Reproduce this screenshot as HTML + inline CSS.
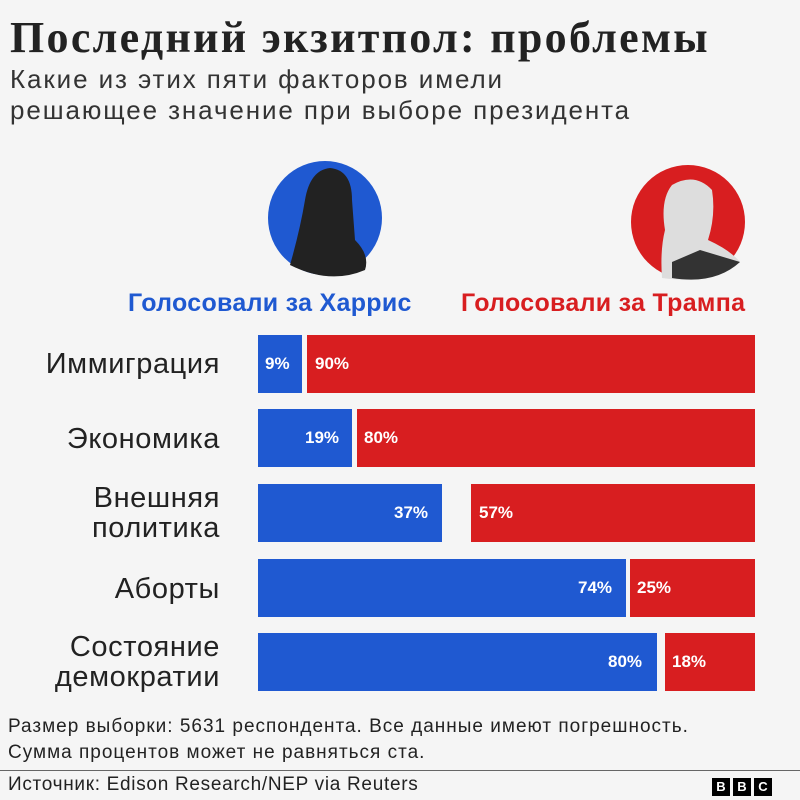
<!DOCTYPE html>
<html><head><meta charset="utf-8"><style>
body{margin:0;background:#f5f5f5;}
#c{position:relative;width:800px;height:800px;background:#f5f5f5;font-family:"Liberation Sans","DejaVu Sans",sans-serif;overflow:hidden;color:#222}
.a{position:absolute;white-space:nowrap}
.b{position:absolute;height:58px}
.bl{background:#1f59d1}.rd{background:#d81e20}
.p{position:absolute;color:#fff;font-weight:bold;font-size:17px;line-height:58px}
.lab{position:absolute;right:580px;text-align:right;font-size:29px;line-height:30px;color:#222;letter-spacing:0.6px}
</style></head><body><div id="c">
<div class="a" style="left:10px;top:12px;font-family:'Liberation Serif',serif;font-weight:bold;font-size:44px;letter-spacing:2.3px;color:#222">Последний экзитпол: проблемы</div>
<div class="a" style="left:10px;top:64px;font-size:26px;letter-spacing:1.9px;line-height:31px;color:#333">Какие из этих пяти факторов имели<br>решающее значение при выборе президента</div>
<svg class="a" style="left:0;top:0" width="800" height="300">
<circle cx="325" cy="218" r="57" fill="#1f59d1"/>
<path d="M290 265 Q300 230 305 200 Q310 170 330 168 Q352 170 352 200 L355 240 Q370 255 365 270 Q330 285 290 265Z" fill="#222"/>
<circle cx="688" cy="222" r="57" fill="#d81e20"/>
<path d="M662 278 Q660 250 665 230 Q660 200 672 185 Q695 172 712 190 Q716 215 708 240 Q730 250 740 262 Q715 285 662 278Z" fill="#ddd"/>
<path d="M672 262 L700 250 L740 262 Q715 285 672 278Z" fill="#333"/>
</svg>
<div class="a" style="left:128px;top:289px;font-size:25px;font-weight:bold;letter-spacing:0.3px;color:#1f59d1">Голосовали за Харрис</div>
<div class="a" style="left:461px;top:289px;font-size:25px;font-weight:bold;letter-spacing:0.3px;color:#d81e20">Голосовали за Трампа</div>

<div class="lab" style="top:349px">Иммиграция</div>
<div class="b bl" style="left:258px;top:335px;width:44px"></div><div class="p" style="left:265px;top:335px">9%</div>
<div class="b rd" style="left:307px;top:335px;width:448px"></div><div class="p" style="left:315px;top:335px">90%</div>

<div class="lab" style="top:424px">Экономика</div>
<div class="b bl" style="left:258px;top:409px;width:94px"></div><div class="p" style="left:305px;top:409px">19%</div>
<div class="b rd" style="left:357px;top:409px;width:398px"></div><div class="p" style="left:364px;top:409px">80%</div>

<div class="lab" style="top:483px">Внешняя<br>политика</div>
<div class="b bl" style="left:258px;top:484px;width:184px"></div><div class="p" style="left:394px;top:484px">37%</div>
<div class="b rd" style="left:471px;top:484px;width:284px"></div><div class="p" style="left:479px;top:484px">57%</div>

<div class="lab" style="top:574px">Аборты</div>
<div class="b bl" style="left:258px;top:559px;width:368px"></div><div class="p" style="left:578px;top:559px">74%</div>
<div class="b rd" style="left:630px;top:559px;width:125px"></div><div class="p" style="left:637px;top:559px">25%</div>

<div class="lab" style="top:632px">Состояние<br>демократии</div>
<div class="b bl" style="left:258px;top:633px;width:399px"></div><div class="p" style="left:608px;top:633px">80%</div>
<div class="b rd" style="left:665px;top:633px;width:90px"></div><div class="p" style="left:672px;top:633px">18%</div>

<div class="a" style="left:8px;top:714px;font-size:19px;letter-spacing:1px;line-height:26px;color:#222">Размер выборки: 5631 респондента. Все данные имеют погрешность.<br>Сумма процентов может не равняться ста.</div>
<div class="a" style="left:0;top:770px;width:800px;height:1px;background:#666"></div>
<div class="a" style="left:8px;top:774px;font-size:19px;letter-spacing:0.7px;color:#222">Источник: Edison Research/NEP via Reuters</div>
<div class="a" style="left:712px;top:778px;display:flex;gap:3px">
<span style="width:18px;height:18px;background:#000;color:#fff;font-weight:bold;font-size:13px;text-align:center;line-height:18px">B</span>
<span style="width:18px;height:18px;background:#000;color:#fff;font-weight:bold;font-size:13px;text-align:center;line-height:18px">B</span>
<span style="width:18px;height:18px;background:#000;color:#fff;font-weight:bold;font-size:13px;text-align:center;line-height:18px">C</span>
</div>
</div></body></html>
